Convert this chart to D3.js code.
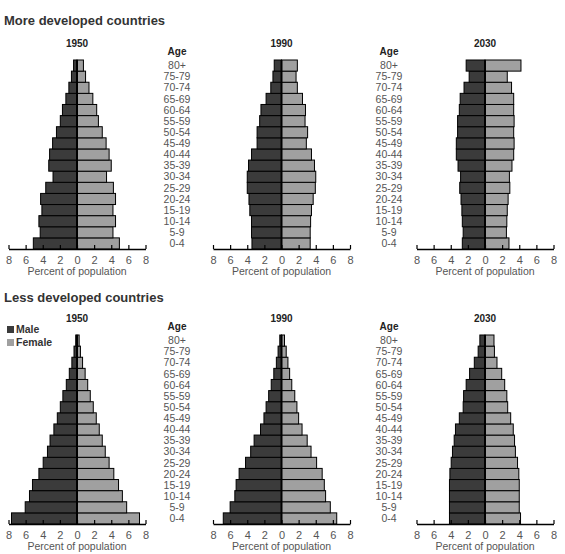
<!DOCTYPE html>
<html>
<head>
<meta charset="utf-8">
<script src="https://cdn.jsdelivr.net/npm/d3@7"></script>
<style>
  body { margin: 0; background: #fff; }
  svg { display: block; font-family: "Liberation Sans", Arial, sans-serif; }
</style>
</head>
<body>
<div id="chart"></div>
<script>
// age groups, youngest first
const ages = ["0-4", "5-9", "10-14", "15-19", "20-24", "25-29", "30-34", "35-39", "40-44",
              "45-49", "50-54", "55-59", "60-64", "65-69", "70-74", "75-79", "80+"];
const years = ["1950", "1990", "2030"];
const ticks = [-8, -6, -4, -2, 0, 2, 4, 6, 8];

// More developed countries (percent of population)
const moreMale1950   = [5.1, 4.3, 4.45, 4.1, 4.25, 3.65, 2.8, 3.3, 3.2, 2.85, 2.4, 1.95, 1.7, 1.3, 0.95, 0.65, 0.4];
const moreFemale1950 = [4.95, 4.2, 4.5, 4.2, 4.5, 4.25, 3.45, 4.0, 3.75, 3.4, 2.95, 2.5, 2.3, 1.85, 1.4, 1.0, 0.75];
const moreMale1990   = [3.45, 3.5, 3.5, 3.7, 3.8, 4.0, 4.0, 3.85, 3.5, 2.85, 2.85, 2.55, 2.4, 1.8, 1.25, 1.0, 0.85];
const moreFemale1990 = [3.35, 3.35, 3.4, 3.5, 3.7, 3.95, 4.0, 3.85, 3.5, 2.9, 3.05, 2.75, 2.8, 2.45, 1.85, 1.7, 1.85];
const moreMale2030   = [2.65, 2.55, 2.65, 2.7, 2.8, 2.95, 2.85, 3.15, 3.35, 3.35, 3.2, 3.2, 3.0, 2.9, 2.45, 1.85, 2.2];
const moreFemale2030 = [2.8, 2.5, 2.55, 2.6, 2.7, 2.9, 2.85, 3.15, 3.35, 3.4, 3.35, 3.4, 3.35, 3.35, 3.1, 2.6, 4.2];

// Less developed countries
const lessMale1950   = [7.65, 6.05, 5.55, 5.2, 4.45, 3.95, 3.45, 3.15, 2.7, 2.3, 1.95, 1.65, 1.25, 0.9, 0.6, 0.35, 0.15];
const lessFemale1950 = [7.3, 5.8, 5.3, 4.85, 4.3, 3.75, 3.3, 2.95, 2.6, 2.25, 1.9, 1.55, 1.25, 0.95, 0.65, 0.4, 0.25];
const lessMale1990   = [6.8, 6.0, 5.45, 5.3, 4.95, 4.2, 3.6, 3.2, 2.45, 2.05, 1.8, 1.5, 1.2, 0.9, 0.6, 0.4, 0.2];
const lessFemale1990 = [6.45, 5.7, 5.15, 5.0, 4.75, 4.1, 3.45, 3.0, 2.4, 2.0, 1.8, 1.55, 1.2, 0.95, 0.75, 0.55, 0.35];
const lessMale2030   = [4.15, 4.15, 4.15, 4.15, 4.1, 3.95, 3.8, 3.6, 3.45, 3.0, 2.55, 2.5, 2.2, 1.8, 1.25, 0.8, 0.6];
const lessFemale2030 = [4.15, 4.0, 4.0, 4.0, 3.95, 3.8, 3.55, 3.45, 3.3, 3.0, 2.65, 2.55, 2.3, 1.95, 1.4, 1.1, 1.05];

const maleColor = "#3b3b3b";
const femaleColor = "#a0a0a0";

const svg = d3.select("#chart").append("svg")
    .attr("width", 565)
    .attr("height", 554);

const centers = [77, 281.5, 485];   // x of the 0 line in each column
const halfWidth = 68.5;              // pixels from 0 to 8 percent
const ageLabelX = [177, 389];

function drawSection(title, titleY, top, bottom, males, females, legend) {
    svg.append("text")
        .attr("x", 4).attr("y", titleY)
        .style("font-size", "13px").style("font-weight", "bold")
        .style("fill", "#333")
        .text(title);

    const y = d3.scaleBand()
        .domain(ages.slice().reverse())
        .range([top, bottom])
        .padding(0);

    years.forEach((year, i) => {
        const cx = centers[i];
        const x = d3.scaleLinear().domain([-8, 8]).range([cx - halfWidth, cx + halfWidth]);
        const g = svg.append("g");

        g.append("text")
            .attr("x", cx).attr("y", top - 13)
            .attr("text-anchor", "middle")
            .style("font-size", "10px").style("font-weight", "bold")
            .style("fill", "#222")
            .text(year);

        const rows = ages.map((a, k) => ({ age: a, male: males[i][k], female: females[i][k] }));

        g.selectAll("rect.male").data(rows).join("rect")
            .attr("class", "male")
            .attr("x", d => x(-d.male))
            .attr("y", d => y(d.age))
            .attr("width", d => x(0) - x(-d.male))
            .attr("height", y.bandwidth())
            .attr("fill", maleColor)
            .attr("stroke", "#000")
            .attr("stroke-width", 1);

        g.selectAll("rect.female").data(rows).join("rect")
            .attr("class", "female")
            .attr("x", x(0))
            .attr("y", d => y(d.age))
            .attr("width", d => x(d.female) - x(0))
            .attr("height", y.bandwidth())
            .attr("fill", femaleColor)
            .attr("stroke", "#000")
            .attr("stroke-width", 1);

        // centre line
        g.append("line")
            .attr("x1", x(0)).attr("x2", x(0))
            .attr("y1", top).attr("y2", bottom)
            .attr("stroke", "#000").attr("stroke-width", 2);

        const axis = g.append("g")
            .attr("transform", `translate(0, ${bottom})`)
            .call(d3.axisBottom(x).tickValues(ticks).tickSize(-4).tickSizeOuter(0)
                .tickFormat(d => Math.abs(d)));
        axis.select(".domain").attr("stroke", "#000").attr("stroke-width", 1.5);
        axis.selectAll(".tick line").attr("stroke", "#000").attr("stroke-width", 1.2);
        axis.selectAll(".tick text")
            .attr("y", 7)
            .style("font-size", "11px")
            .style("font-family", "Liberation Sans, Arial, sans-serif")
            .style("fill", "#555");

        g.append("text")
            .attr("x", cx).attr("y", bottom + 26)
            .attr("text-anchor", "middle")
            .style("font-size", "10.5px")
            .style("fill", "#555")
            .text("Percent of population");
    });

    // age labels between columns
    ageLabelX.forEach(lx => {
        svg.append("text")
            .attr("x", lx).attr("y", top - 5)
            .attr("text-anchor", "middle")
            .style("font-size", "10px").style("font-weight", "bold")
            .style("fill", "#222")
            .text("Age");
        svg.append("g").selectAll("text").data(ages).join("text")
            .attr("x", lx)
            .attr("y", d => y(d) + y.bandwidth() / 2)
            .attr("dy", "0.35em")
            .attr("text-anchor", "middle")
            .style("font-size", "10.5px")
            .style("fill", "#555")
            .text(d => d);
    });

    if (legend) {
        const items = [["Male", maleColor], ["Female", femaleColor]];
        const lg = svg.append("g");
        lg.selectAll("rect").data(items).join("rect")
            .attr("x", 7)
            .attr("y", (d, k) => top - 9 + k * 13)
            .attr("width", 7).attr("height", 7)
            .attr("fill", d => d[1]);
        lg.selectAll("text").data(items).join("text")
            .attr("x", 16)
            .attr("y", (d, k) => top - 2 + k * 13)
            .style("font-size", "10.5px").style("font-weight", "bold")
            .style("fill", "#333")
            .text(d => d[0]);
    }
}

drawSection("More developed countries", 25, 60, 249,
    [moreMale1950, moreMale1990, moreMale2030],
    [moreFemale1950, moreFemale1990, moreFemale2030], false);

drawSection("Less developed countries", 302, 335, 524,
    [lessMale1950, lessMale1990, lessMale2030],
    [lessFemale1950, lessFemale1990, lessFemale2030], true);
</script>
</body>
</html>
